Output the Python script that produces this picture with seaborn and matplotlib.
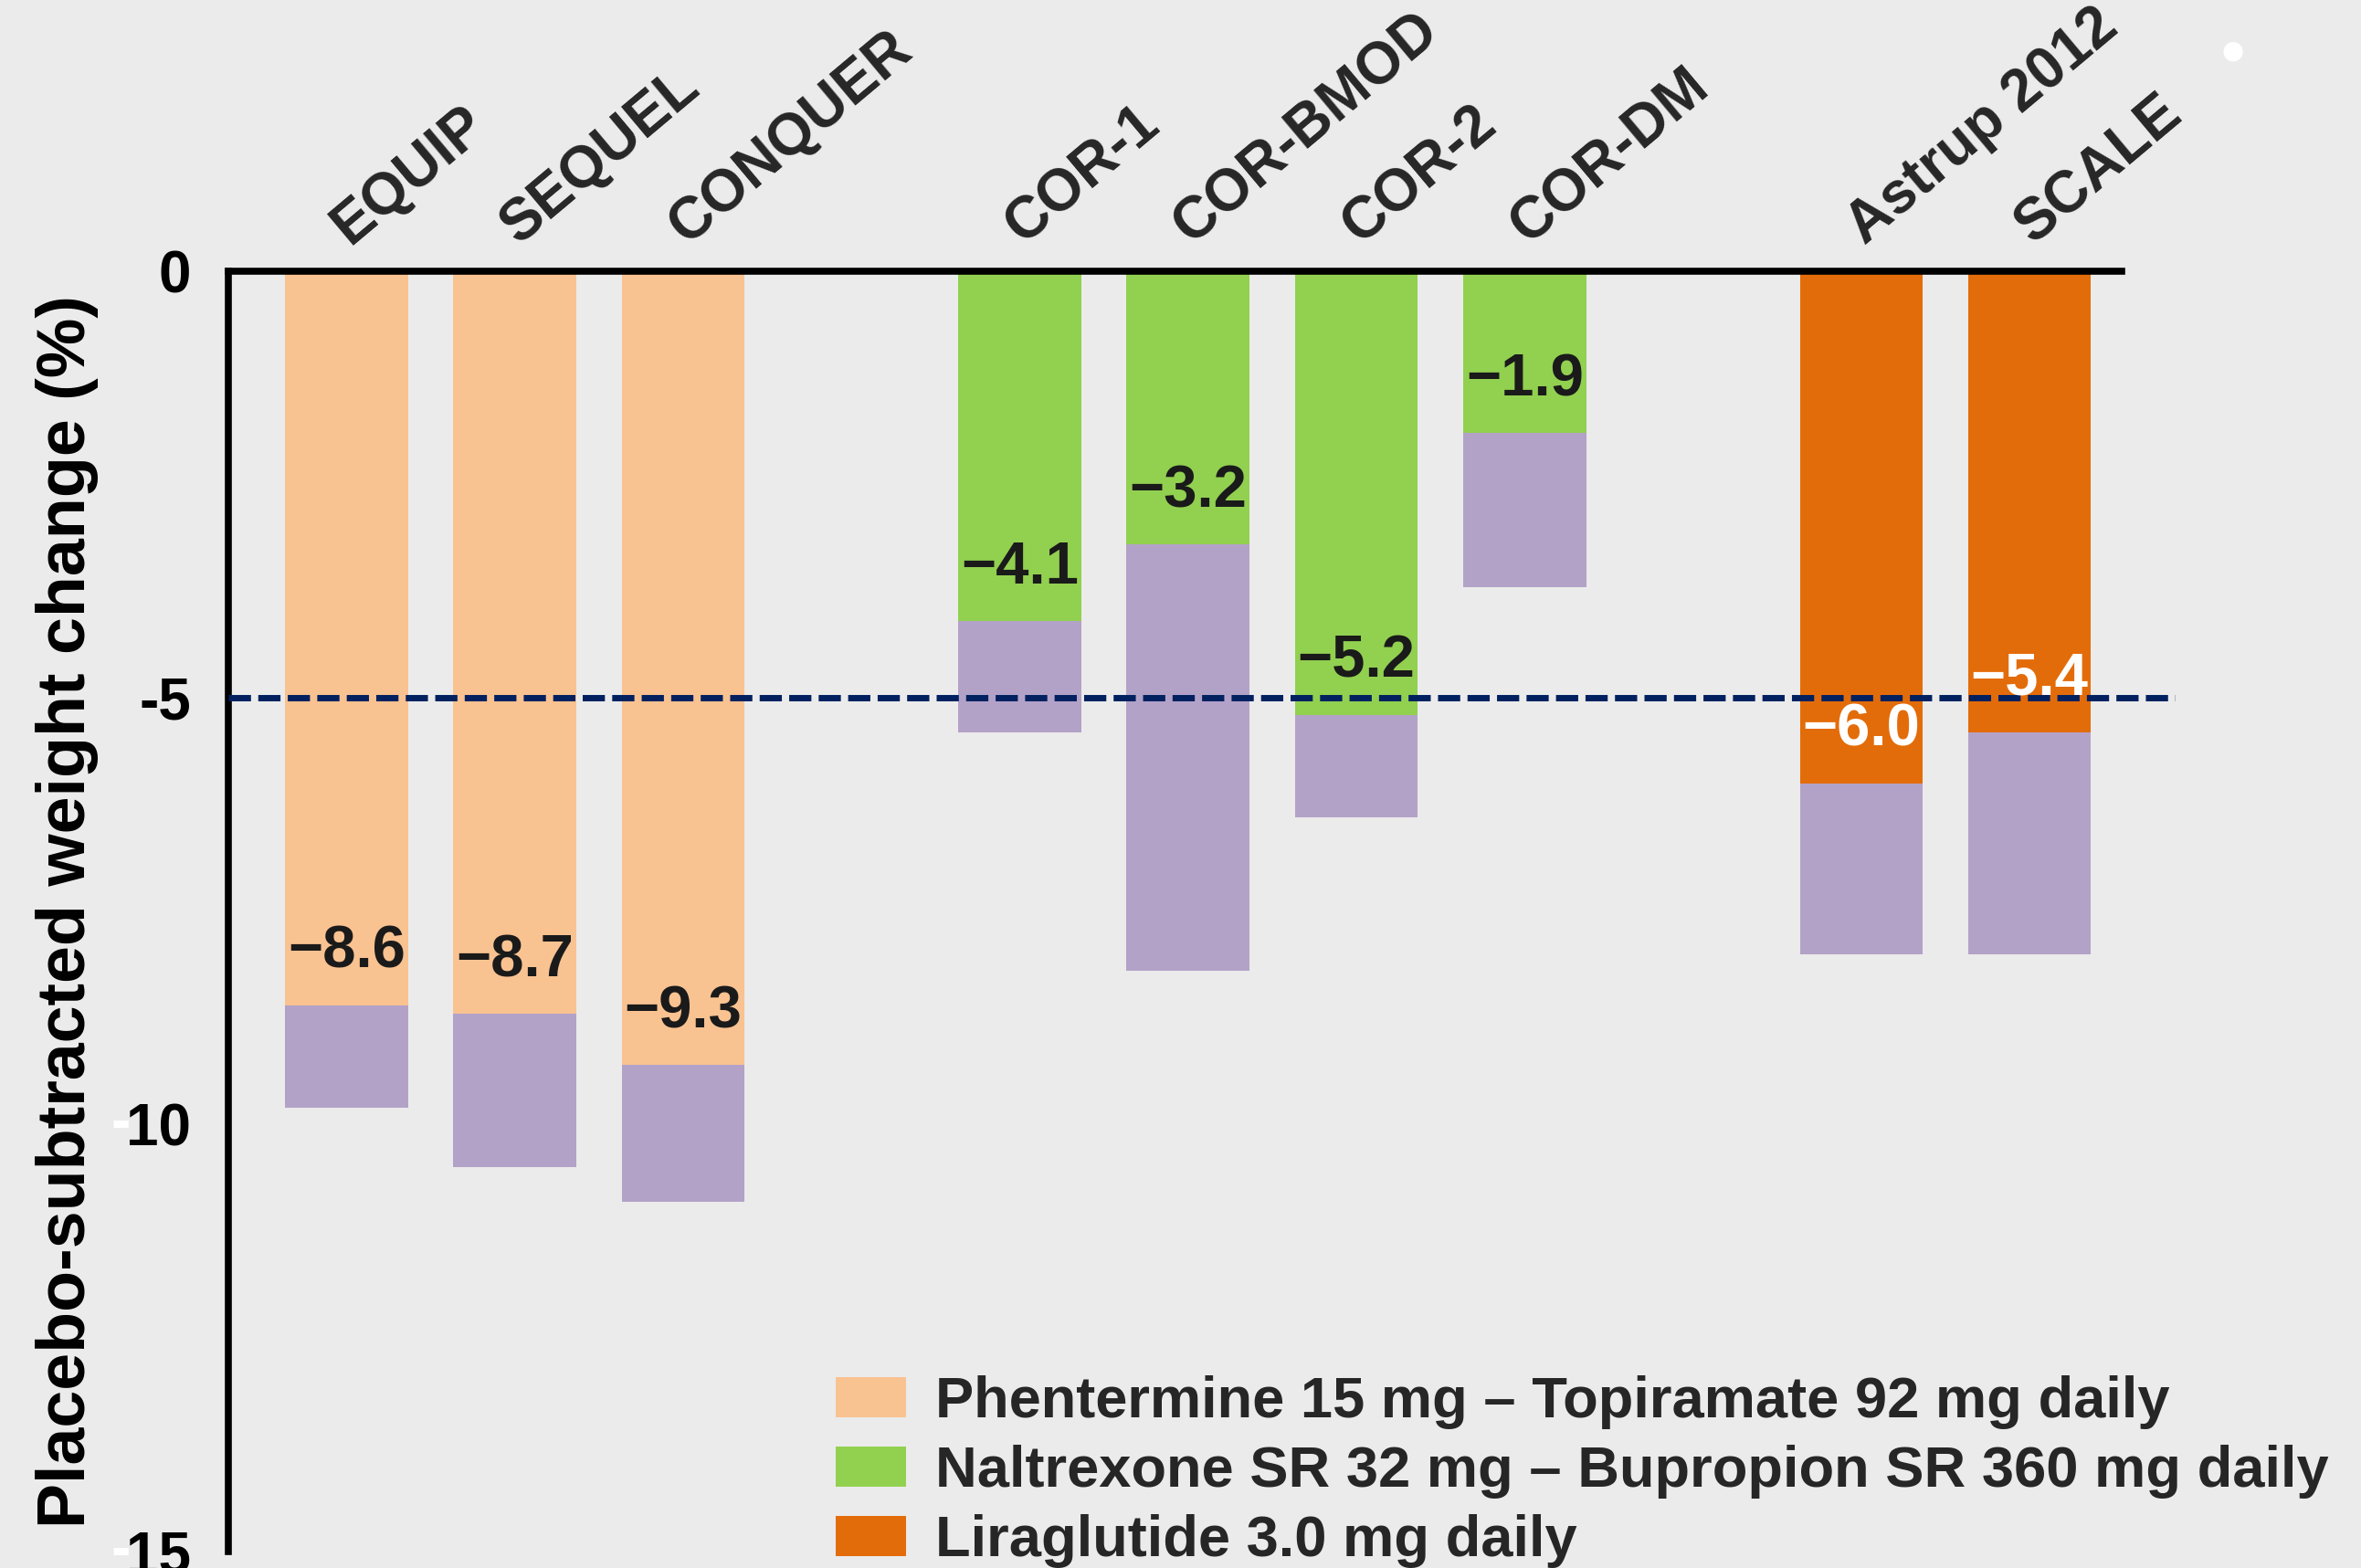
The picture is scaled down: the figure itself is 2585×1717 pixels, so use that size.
import matplotlib
matplotlib.use("Agg")
import matplotlib.pyplot as plt
from matplotlib.patches import Patch
import seaborn as sns
import pandas as pd

# trial names, drug group and placebo-subtracted weight change (%)
studies = ["EQUIP", "SEQUEL", "CONQUER", "COR-1", "COR-BMOD", "COR-2", "COR-DM", "Astrup 2012", "SCALE"]
drugs = ["PHEN/TPM", "PHEN/TPM", "PHEN/TPM", "NB", "NB", "NB", "NB", "LIRA", "LIRA"]
placebo_subtracted = [-8.6, -8.7, -9.3, -4.1, -3.2, -5.2, -1.9, -6.0, -5.4]
# purple bars behind (total change in drug arm)
total_change = [-9.8, -10.5, -10.9, -5.4, -8.2, -6.4, -3.7, -8.0, -8.0]

drug_order = ["PHEN/TPM", "NB", "LIRA"]
drug_labels = ["Phentermine 15 mg \u2013 Topiramate 92 mg daily",
               "Naltrexone SR 32 mg \u2013 Bupropion SR 360 mg daily",
               "Liraglutide 3.0 mg daily"]
drug_colors = ["#f9c291", "#92d050", "#e36c0a"]
label_colors = ["#1a1a1a", "#1a1a1a", "#ffffff"]
purple = "#b3a2c8"
bg = "#ebebeb"

# blank slots between the drug groups
order = ["EQUIP", "SEQUEL", "CONQUER", " ", "COR-1", "COR-BMOD", "COR-2", "COR-DM", "  ", "Astrup 2012", "SCALE"]

df = pd.DataFrame({"study": studies, "drug": drugs,
                   "effect": placebo_subtracted, "total": total_change})

sns.set_style("white")
plt.rcParams["font.family"] = ["Liberation Sans", "DejaVu Sans"]
plt.rcParams["font.weight"] = "bold"

fig = plt.figure(figsize=(25.85, 17.17), dpi=100, facecolor=bg)
ax = fig.add_axes([0.0969, 0.0106, 0.8247, 0.8165])
ax.set_facecolor(bg)

# purple bars first, then the drug bars on top
sns.barplot(data=df, x="study", y="total", order=order, color=purple,
            saturation=1, width=0.73, errorbar=None, linewidth=0, ax=ax, zorder=2)
sns.barplot(data=df, x="study", y="effect", hue="drug", order=order,
            hue_order=drug_order, palette=drug_colors, dodge=False, linewidth=0,
            saturation=1, width=0.73, errorbar=None, legend=False, ax=ax, zorder=3)

ax.set_xlim(-0.70, 10.87)
ax.set_ylim(-15, 0)

# -5% threshold
ax.axhline(-5, color="#002060", lw=5, ls=(0, (3.5, 1.15)), zorder=5)

# value labels
for s, d, v in zip(studies, drugs, placebo_subtracted):
    i = order.index(s)
    c = label_colors[drug_order.index(d)]
    ax.text(i, v + 0.62, f"\u2212{abs(v):.1f}", ha="center", va="center",
            fontsize=47, fontweight="bold", color=c, zorder=6)

# trial names above the zero line
for s in studies:
    i = order.index(s)
    ax.text(i + 0.02, 0.3, s, rotation=40, rotation_mode="anchor", ha="left",
            va="baseline", fontsize=46, fontweight="bold", clip_on=False)

ax.set_xticks([])
ax.set_xlabel("")
ax.set_yticks([0, -5, -10, -15])
ax.set_yticklabels(["0", "-5", "10", "15"])
ax.tick_params(axis="y", direction="out", length=16, width=5, pad=14,
               labelsize=46, colors="black")
for t in ax.get_yticklabels():
    t.set_fontweight("bold")
# white minus signs on the lower tick labels, as in the original
for y in [-10, -15]:
    ax.text(-0.0505, y, "-", transform=ax.get_yaxis_transform(), ha="right",
            va="center", fontsize=46, fontweight="bold", color="white", clip_on=False)

ax.set_ylabel("Placebo-subtracted weight change (%)", fontsize=53, fontweight="bold",
              color="black")
ax.yaxis.set_label_coords(-0.067, 0.5)

for side in ["right", "bottom"]:
    ax.spines[side].set_visible(False)
for side in ["left", "top"]:
    ax.spines[side].set_linewidth(5.5)
    ax.spines[side].set_color("black")
ax.spines["left"].set_bounds(-15, 0)
ax.spines["top"].set_bounds(-0.70, 10.55)
ax.spines["top"].set_zorder(4)

handles = [Patch(facecolor=c, edgecolor="none") for c in drug_colors]
leg = fig.legend(handles, drug_labels, loc="lower left", bbox_to_anchor=(0.354, 0.0),
                 frameon=False, fontsize=45.5, handlelength=1.22, handleheight=0.7,
                 handletextpad=0.5, labelspacing=0.27, borderpad=0, borderaxespad=0)
for t in leg.get_texts():
    t.set_fontweight("bold")

fig.text(0.9458, 0.9674, "\u25cf", color="white", fontsize=20, ha="center", va="center",
         family="DejaVu Sans")

fig.savefig("out.png", dpi=100, facecolor=bg)
